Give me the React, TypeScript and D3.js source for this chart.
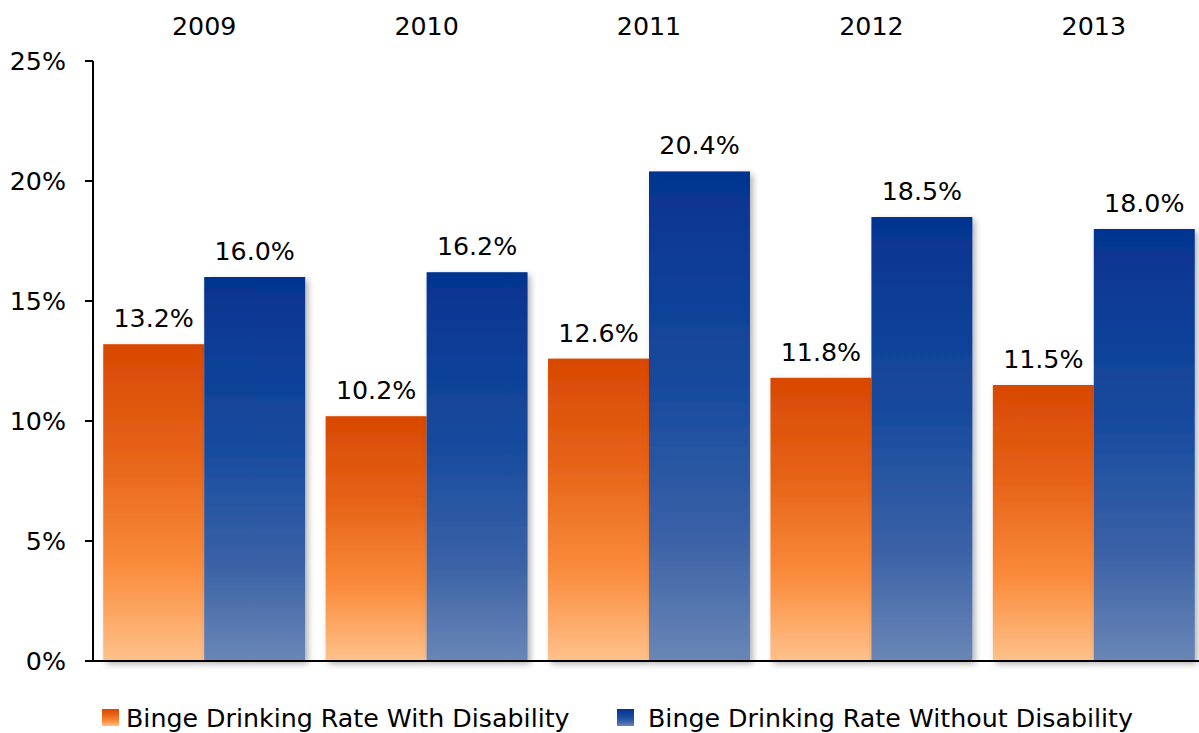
import React from "react";
import * as d3 from "d3";

const years = ["2009", "2010", "2011", "2012", "2013"];
const withDisability = [13.2, 10.2, 12.6, 11.8, 11.5];
const withoutDisability = [16.0, 16.2, 20.4, 18.5, 18.0];
const yTicks = [0, 5, 10, 15, 20, 25];
const seriesNames = ["Binge Drinking Rate With Disability", "Binge Drinking Rate Without Disability"];

const W = 1199;
const H = 733;
const FONT = "'DejaVu Sans', sans-serif";
const FS = 25.3;

export default function App() {
  const left = 93;
  const x = d3.scaleBand<string>().domain(years).range([left, 1205]).paddingInner(0.092).paddingOuter(0.046);
  const y = d3.scaleLinear().domain([0, 25]).range([661, 61]);
  const inner = d3.scaleBand<number>().domain([0, 1]).range([0, x.bandwidth()]);
  const series = [withDisability, withoutDisability];
  const grads = ["gOrange", "gBlue"];

  return (
    <svg width={W} height={H} style={{ position: "absolute", left: 0, top: 0, background: "#fff" }} fontFamily={FONT}>
      <defs>
        <linearGradient id="gOrange" x1="0" y1="0" x2="0" y2="1">
          <stop offset="0" stopColor="#D84802" />
          <stop offset="0.35" stopColor="#E66318" />
          <stop offset="0.7" stopColor="#FA8C3C" />
          <stop offset="1" stopColor="#FEC18B" />
        </linearGradient>
        <linearGradient id="gBlue" x1="0" y1="0" x2="0" y2="1">
          <stop offset="0" stopColor="#05338F" />
          <stop offset="0.45" stopColor="#174B9E" />
          <stop offset="0.75" stopColor="#3B62A6" />
          <stop offset="1" stopColor="#6A86B6" />
        </linearGradient>
        <filter id="shadow" x="-10%" y="-10%" width="130%" height="130%">
          <feDropShadow dx="3" dy="3" stdDeviation="3" floodColor="#000" floodOpacity="0.3" />
        </filter>
      </defs>

      {years.map((yr, i) => (
        <g key={yr}>
          {series.map((s, k) => {
            const bx = (x(yr) as number) + (inner(k) as number);
            const bw = inner.bandwidth();
            const top = y(s[i]);
            return (
              <g key={k}>
                <rect x={bx} y={top} width={bw} height={y(0) - top} fill={`url(#${grads[k]})`} filter="url(#shadow)" />
              </g>
            );
          })}
          {series.map((s, k) => {
            const bx = (x(yr) as number) + (inner(k) as number);
            const bw = inner.bandwidth();
            return (
              <text key={"l" + k} x={bx + bw / 2} y={y(s[i]) - 17} textAnchor="middle" fontSize={FS} fill="#000">
                {s[i].toFixed(1)}%
              </text>
            );
          })}
          <text x={(x(yr) as number) + x.bandwidth() / 2} y={35} textAnchor="middle" fontSize={FS} fill="#000">
            {yr}
          </text>
        </g>
      ))}

      {/* axes */}
      <line x1={left} x2={W} y1={y(0)} y2={y(0)} stroke="#000" strokeWidth={2} />
      <line x1={left} x2={left} y1={y(25)} y2={y(0)} stroke="#000" strokeWidth={2} />
      {yTicks.map((t) => (
        <g key={t}>
          <line x1={left - 8} x2={left} y1={y(t)} y2={y(t)} stroke="#000" strokeWidth={2} />
          <text x={66} y={y(t) + 9} textAnchor="end" fontSize={FS} fill="#000">
            {t}%
          </text>
        </g>
      ))}

      {/* legend */}
      <rect x={102} y={709} width={17} height={17} fill="url(#gOrange)" />
      <text x={126} y={727} fontSize={FS} fill="#000">{seriesNames[0]}</text>
      <rect x={617} y={709} width={17} height={17} fill="url(#gBlue)" />
      <text x={648} y={727} fontSize={FS} fill="#000">{seriesNames[1]}</text>
    </svg>
  );
}
